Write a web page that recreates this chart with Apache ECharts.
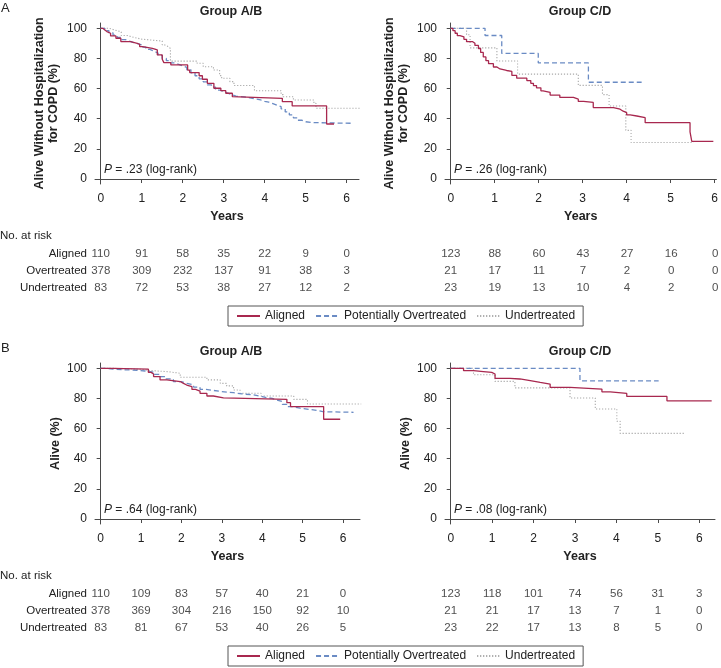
<!DOCTYPE html>
<html><head><meta charset="utf-8">
<script src="https://cdn.jsdelivr.net/npm/echarts@6/dist/echarts.min.js"></script>
<style>html,body{margin:0;padding:0;background:#fff}#c{width:721px;height:668px}</style>
</head><body><div id="c"></div>
<script>
// ---------- data ----------
const years = [0, 1, 2, 3, 4, 5, 6];
const yTicks = [0, 20, 40, 60, 80, 100];
const groupNames = ['Aligned', 'Potentially Overtreated', 'Undertreated'];
const riskRowLabels = ['Aligned', 'Overtreated', 'Undertreated'];
const panelTitles = ['Group A/B', 'Group C/D', 'Group A/B', 'Group C/D'];
const panelLetters = ['A', 'B'];
const pValues = ['.23', '.26', '.64', '.08'];
const yNameHosp = 'Alive Without Hospitalization\nfor COPD (%)';
const yNameAlive = 'Alive (%)';
const xName = 'Years';

// Panel A, Group A/B  ([years, survival %])
const hospAB_aligned = [[0,100],[0.05,98.9],[0.1,97.8],[0.15,96.7],[0.24,94.9],[0.37,93.4],[0.49,91.2],[0.73,90.0],[0.89,89.4],[0.95,87.8],[1.02,86.7],[1.26,85.6],[1.38,82.3],[1.5,79.4],[1.54,77.2],[1.71,75.7],[2.12,72.3],[2.17,70.6],[2.4,68.5],[2.48,66.2],[2.6,63.5],[2.76,60.2],[2.93,58.6],[3.05,56.9],[3.21,54.6],[3.25,53.5],[4.43,51.3],[4.67,48.5],[5.51,36.5],[5.69,36.5]];
const hospAB_over = [[0,100],[0.1,98.5],[0.2,97],[0.3,95.5],[0.4,94],[0.5,92.5],[0.6,91.5],[0.7,90.5],[0.8,89.8],[0.9,89],[1.0,87.5],[1.1,86],[1.2,84.8],[1.3,83.5],[1.4,82],[1.5,80],[1.6,78.5],[1.7,77],[1.8,76],[1.9,75],[2.0,74],[2.1,72.5],[2.2,70.5],[2.3,68.5],[2.4,66.5],[2.5,64.5],[2.6,62.5],[2.7,61],[2.8,59],[2.9,58],[3.0,57],[3.1,56],[3.2,55],[3.3,54.5],[3.5,53.5],[3.7,52.5],[3.9,51.5],[4.0,51],[4.1,50],[4.2,49],[4.3,48],[4.4,46.5],[4.5,44.5],[4.6,42.5],[4.7,40.5],[4.8,39],[4.9,38],[5.0,37.4],[5.2,37],[6.1,37]];
const hospAB_under = [[0,100],[0.2,98.8],[0.35,97.6],[0.5,95.2],[0.65,94],[0.8,92.8],[1.0,91.5],[1.5,89],[1.55,87.8],[1.65,86.6],[1.7,78.2],[2.35,76.8],[2.5,74.5],[2.75,72.3],[2.9,68.6],[2.95,66.8],[3.15,64.6],[3.25,62],[3.75,58.6],[4.4,56],[4.45,54.6],[4.7,52.4],[5.2,50.2],[5.25,46.9],[6.34,46.9]];
// Panel A, Group C/D
const hospCD_aligned = [[0,100],[0.05,98.4],[0.1,96.7],[0.15,95.1],[0.21,94.3],[0.3,92.7],[0.36,91.1],[0.5,90],[0.55,88.6],[0.63,86.6],[0.68,84],[0.74,81],[0.8,78.5],[0.86,76.5],[0.97,74.3],[1.05,73],[1.12,72],[1.27,71.4],[1.39,68.7],[1.5,66.9],[1.73,65.3],[1.82,63.5],[1.88,62],[1.95,60.5],[2.05,58.5],[2.1,57.5],[2.26,55.7],[2.48,54.1],[2.79,53],[2.9,51.5],[3.02,50.8],[3.24,47.4],[3.7,46.3],[3.85,45],[3.92,44],[4.0,42.5],[4.08,41.8],[4.23,40.7],[4.42,37.4],[5.44,31.2],[5.48,25],[5.97,25]];
const hospCD_over = [[0,100],[0.78,95.2],[1.16,83.3],[1.99,77.0],[3.13,64.2],[4.34,64.2]];
const hospCD_under = [[0,100],[0.36,95.7],[0.44,87.0],[1.05,78.3],[1.52,69.6],[2.9,62.1],[3.45,56.0],[3.6,48.4],[3.98,32.3],[4.1,24.2],[5.52,24.2]];
// Panel B, Group A/B
const aliveAB_aligned = [[0,100],[0.3,99.5],[1.18,97.3],[1.25,96.2],[1.31,94.5],[1.47,92.3],[1.64,91.2],[1.97,90],[2.05,88.9],[2.13,87.8],[2.26,86],[2.35,84.8],[2.46,83.4],[2.63,81.6],[2.79,80.4],[3.04,79.4],[4.61,77.2],[4.7,74.6],[5.52,66.2],[5.93,66.2]];
const aliveAB_over = [[0,100],[0.15,99.5],[0.3,99],[0.6,98.7],[0.9,98.2],[1.1,97.5],[1.3,96],[1.47,94.5],[1.6,93],[1.8,91.2],[2.0,90],[2.13,89],[2.3,87.5],[2.46,86],[2.6,85.3],[2.79,84.5],[3.0,83.8],[3.29,83],[3.5,82.3],[3.79,81.2],[4.0,80.5],[4.12,80],[4.25,79],[4.36,77.9],[4.5,76],[4.61,74.6],[4.75,73.5],[4.94,72.8],[5.15,72],[5.36,71.2],[5.5,70.8],[6.26,70.8]];
const aliveAB_under = [[0,100],[0.3,99.3],[1.0,98.5],[1.22,97.8],[1.64,96.7],[1.97,94],[2.63,92.3],[2.96,90],[3.12,88.3],[3.29,85.6],[3.45,83.4],[3.97,81.6],[4.78,79.4],[5.12,76.3],[6.45,76.3]];
// Panel B, Group C/D
const aliveCD_aligned = [[0,100],[0.31,98.4],[0.55,97.8],[0.79,97.3],[0.99,96.2],[1.07,93.3],[1.43,92.9],[1.67,91.8],[1.92,90.6],[2.16,89.5],[2.4,87.3],[2.88,86.2],[3.65,84.4],[3.85,83.3],[4.25,81.3],[5.22,78.4],[6.3,78.4]];
const aliveCD_over = [[0,100],[3.12,91.6],[5.02,91.6]];
const aliveCD_under = [[0,100],[0.55,95.7],[1.07,91.3],[1.55,87.0],[2.88,80.3],[3.49,73.0],[4.01,64.9],[4.09,56.8],[5.66,56.8]];

// Number at risk
const riskA_AB_aligned = [110, 91, 58, 35, 22, 9, 0];
const riskA_AB_over = [378, 309, 232, 137, 91, 38, 3];
const riskA_AB_under = [83, 72, 53, 38, 27, 12, 2];
const riskA_CD_aligned = [123, 88, 60, 43, 27, 16, 0];
const riskA_CD_over = [21, 17, 11, 7, 2, 0, 0];
const riskA_CD_under = [23, 19, 13, 10, 4, 2, 0];
const riskB_AB_aligned = [110, 109, 83, 57, 40, 21, 0];
const riskB_AB_over = [378, 369, 304, 216, 150, 92, 10];
const riskB_AB_under = [83, 81, 67, 53, 40, 26, 5];
const riskB_CD_aligned = [123, 118, 101, 74, 56, 31, 3];
const riskB_CD_over = [21, 21, 17, 13, 7, 1, 0];
const riskB_CD_under = [23, 22, 17, 13, 8, 5, 0];

// ---------- assembly ----------
const curves = [
  [hospAB_aligned, hospAB_over, hospAB_under],
  [hospCD_aligned, hospCD_over, hospCD_under],
  [aliveAB_aligned, aliveAB_over, aliveAB_under],
  [aliveCD_aligned, aliveCD_over, aliveCD_under]
];
const risks = [
  [riskA_AB_aligned, riskA_AB_over, riskA_AB_under],
  [riskA_CD_aligned, riskA_CD_over, riskA_CD_under],
  [riskB_AB_aligned, riskB_AB_over, riskB_AB_under],
  [riskB_CD_aligned, riskB_CD_over, riskB_CD_under]
];

const SANS = "'Liberation Sans', Arial, Helvetica, sans-serif";
const AX = '#4a4a4a';
const TXT = '#222';
const colors = ['#a8284f', '#6a8bc4', '#a9a9a9'];
const lineTypes = ['solid', [5, 3], [1.2, 1.8]];
const lineWidths = [1.3, 1.3, 1.1];

const layout = [
  { left: 95, top: 23, width: 264, height: 161, xmin: -0.14, xmax: 6.30, riskTop: 245, titleX: 231 },
  { left: 445, top: 23, width: 272, height: 161, xmin: -0.13, xmax: 6.04, riskTop: 245, titleX: 580 },
  { left: 95, top: 363, width: 265, height: 161, xmin: -0.14, xmax: 6.42, riskTop: 585, titleX: 231 },
  { left: 445, top: 363, width: 270, height: 161, xmin: -0.138, xmax: 6.38, riskTop: 585, titleX: 580 }
];
const yMin = -3.3, yMax = 103.5;

const grid = [], xAxis = [], yAxis = [], series = [], graphic = [];
layout.forEach((L, k) => {
  const pi = 2 * k, ri = 2 * k + 1;
  grid.push({ left: L.left, top: L.top, width: L.width, height: L.height });
  xAxis.push({
    type: 'value', gridIndex: pi, min: L.xmin, max: L.xmax,
    name: xName, nameLocation: 'middle', nameGap: 26,
    nameTextStyle: { fontFamily: SANS, fontWeight: 'bold', fontSize: 12.5, color: TXT },
    axisLine: { show: true, lineStyle: { color: AX, width: 1 } },
    axisTick: { show: true, length: 4, customValues: years, lineStyle: { color: AX } },
    axisLabel: { show: true, customValues: years, margin: 9, fontFamily: SANS, fontSize: 12, color: TXT },
    splitLine: { show: false }
  });
  yAxis.push({
    type: 'value', gridIndex: pi, min: yMin, max: yMax,
    name: k < 2 ? yNameHosp : yNameAlive, nameLocation: 'middle', nameRotate: 90,
    nameGap: k < 2 ? 35 : 33,
    nameTextStyle: { fontFamily: SANS, fontWeight: 'bold', fontSize: 12.5, lineHeight: 13.5, color: TXT, align: 'center' },
    axisLine: { show: true, lineStyle: { color: AX, width: 1 } },
    axisTick: { show: true, length: 4, customValues: yTicks, lineStyle: { color: AX } },
    axisLabel: { show: true, customValues: yTicks, margin: 8, fontFamily: SANS, fontSize: 12, color: TXT },
    splitLine: { show: false }
  });
  grid.push({ left: L.left, top: L.riskTop, width: L.width, height: 51 });
  xAxis.push({ type: 'value', gridIndex: ri, min: L.xmin, max: L.xmax, show: false });
  yAxis.push({
    type: 'category', gridIndex: ri, data: riskRowLabels, inverse: true,
    axisLine: { show: false }, axisTick: { show: false }, splitLine: { show: false },
    axisLabel: { show: k % 2 === 0, margin: 8, fontFamily: SANS, fontSize: 11.5, color: TXT }
  });

  curves[k].forEach((d, s) => {
    series.push({
      type: 'line', name: groupNames[s], xAxisIndex: pi, yAxisIndex: pi,
      data: d, step: 'end', symbol: 'none', showSymbol: false,
      lineStyle: { color: colors[s], width: lineWidths[s], type: lineTypes[s] },
      itemStyle: { color: colors[s] }, z: 3 - s
    });
  });
  const rdata = [];
  risks[k].forEach((row, r) => row.forEach((n, j) => rdata.push([years[j], r, n])));
  series.push({
    type: 'scatter', name: 'risk' + k, xAxisIndex: ri, yAxisIndex: ri,
    data: rdata, symbolSize: 1, itemStyle: { color: 'rgba(0,0,0,0)' },
    label: { show: true, position: 'inside', formatter: p => String(p.value[2]),
      fontFamily: SANS, fontSize: 11.5, color: TXT }
  });
  graphic.push({
    type: 'text', x: L.titleX, y: L.top - 11.5,
    style: { text: panelTitles[k], fontFamily: SANS, fontWeight: 'bold', fontSize: 12.5, fill: TXT, align: 'center', verticalAlign: 'middle' }
  });
  graphic.push({
    type: 'text', x: L.left + 9, y: L.top + 147,
    style: {
      text: '{i|P} = ' + pValues[k] + ' (log-rank)',
      fontFamily: SANS, fontSize: 12, fill: TXT, verticalAlign: 'middle',
      rich: { i: { fontStyle: 'italic', fontFamily: SANS, fontSize: 12, fill: TXT } }
    }
  });
});
panelLetters.forEach((t, i) => {
  graphic.push({ type: 'text', x: 1, y: 8 + i * 340,
    style: { text: t, fontFamily: SANS, fontSize: 13, fill: TXT, verticalAlign: 'middle' } });
  graphic.push({ type: 'text', x: 0, y: 236 + i * 340,
    style: { text: 'No. at risk', fontFamily: SANS, fontSize: 11.5, fill: TXT, verticalAlign: 'middle' } });
});

const legendBase = {
  data: groupNames, left: 228, orient: 'horizontal',
  itemWidth: 23, itemHeight: 14, itemGap: 10,
  padding: [4, 8], borderColor: '#555', borderWidth: 1,
  itemStyle: { opacity: 0 },
  textStyle: { fontFamily: SANS, fontSize: 12, color: TXT },
  selectedMode: false
};

const chart = echarts.init(document.getElementById('c'), null, { renderer: 'canvas' });
chart.setOption({
  animation: false,
  backgroundColor: '#fff',
  grid, xAxis, yAxis, series, graphic,
  legend: [Object.assign({ top: 306 }, legendBase), Object.assign({ top: 646 }, legendBase)]
});
</script>
</body></html>
